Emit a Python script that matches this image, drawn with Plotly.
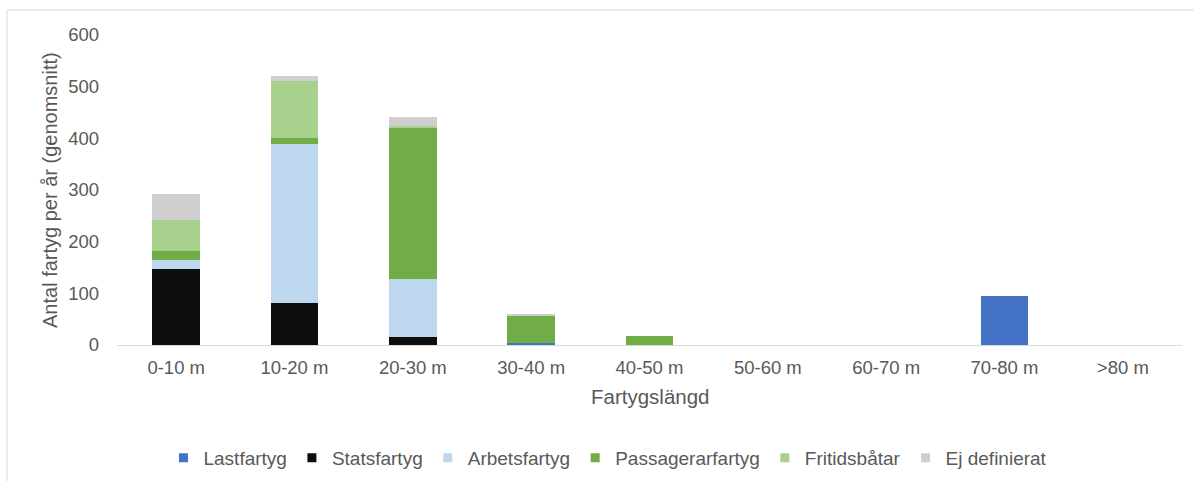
import plotly.graph_objects as go

categories = ["0-10 m", "10-20 m", "20-30 m", "30-40 m", "40-50 m", "50-60 m", "60-70 m", "70-80 m", ">80 m"]
lastfartyg = [0, 0, 0, 4, 0, 0, 0, 95, 0]
statsfartyg = [148, 82, 16, 0, 0, 0, 0, 0, 0]
arbetsfartyg = [16, 307, 111, 0, 0, 0, 0, 0, 0]
passagerarfartyg = [17, 12, 294, 53, 18, 0, 0, 0, 0]
fritidsbatar = [61, 110, 2, 0, 0, 0, 0, 0, 0]
ej_definierat = [50, 10, 18, 3, 0, 0, 0, 0, 0]

series = [
    ("Lastfartyg", lastfartyg, "#4472C4"),
    ("Statsfartyg", statsfartyg, "#0D0D0D"),
    ("Arbetsfartyg", arbetsfartyg, "#BDD7EE"),
    ("Passagerarfartyg", passagerarfartyg, "#70AD47"),
    ("Fritidsbåtar", fritidsbatar, "#A9D18E"),
    ("Ej definierat", ej_definierat, "#D0CECE"),
]

FONT = "Liberation Sans, Arial, sans-serif"
TXT = "#595959"
fig = go.Figure()
for name, vals, color in series:
    fig.add_trace(go.Bar(x=categories, y=vals, name=name, marker_color=color,
                         marker_line_width=0, showlegend=False))
for name, vals, color in series:
    fig.add_trace(go.Scatter(x=[None], y=[None], mode="markers", name=name,
                             marker=dict(symbol="square", size=9, color=color)))

W, H = 1194, 481
l, r, t, b = 117, 12, 35, 136
pw, ph = W - l - r, H - t - b

fig.update_layout(
    width=W, height=H,
    margin=dict(l=l, r=r, t=t, b=b, autoexpand=False),
    barmode="stack",
    bargap=0.595,
    plot_bgcolor="white", paper_bgcolor="white",
    font=dict(family=FONT, size=18.5, color=TXT),
    legend=dict(orientation="h", x=0.461, xanchor="center", y=(345 - 458) / ph,
                yanchor="middle", font=dict(size=19, color=TXT),
                itemwidth=30, tracegroupgap=0, traceorder="normal"),
    xaxis=dict(showline=True, linecolor="#D9D9D9", linewidth=1, ticks="", automargin=False,
               tickfont=dict(size=18.5, color=TXT), ticklabelstandoff=6),
    yaxis=dict(range=[0, 600], dtick=100, showgrid=False, zeroline=False, showline=False,
               automargin=False, tickfont=dict(size=18.5, color=TXT), ticklabelstandoff=17),
    annotations=[
        dict(text="Antal fartyg per år (genomsnitt)", xref="paper", yref="paper",
             x=(50 - l) / pw, y=(345 - 190) / ph, xanchor="center", yanchor="middle",
             textangle=-90, showarrow=False, font=dict(size=20, color=TXT)),
        dict(text="Fartygslängd", xref="paper", yref="paper",
             x=(650 - l) / pw, y=(345 - 396) / ph, xanchor="center", yanchor="middle",
             showarrow=False, font=dict(size=20.5, color=TXT)),
    ],
    shapes=[dict(type="rect", xref="paper", yref="paper",
                 x0=(7 - l) / pw, x1=1.2, y0=-1.0, y1=(345 - 10) / ph,
                 line=dict(color="#D9D9D9", width=1), fillcolor="rgba(0,0,0,0)", layer="below")],
)

fig.write_html("out.html")
